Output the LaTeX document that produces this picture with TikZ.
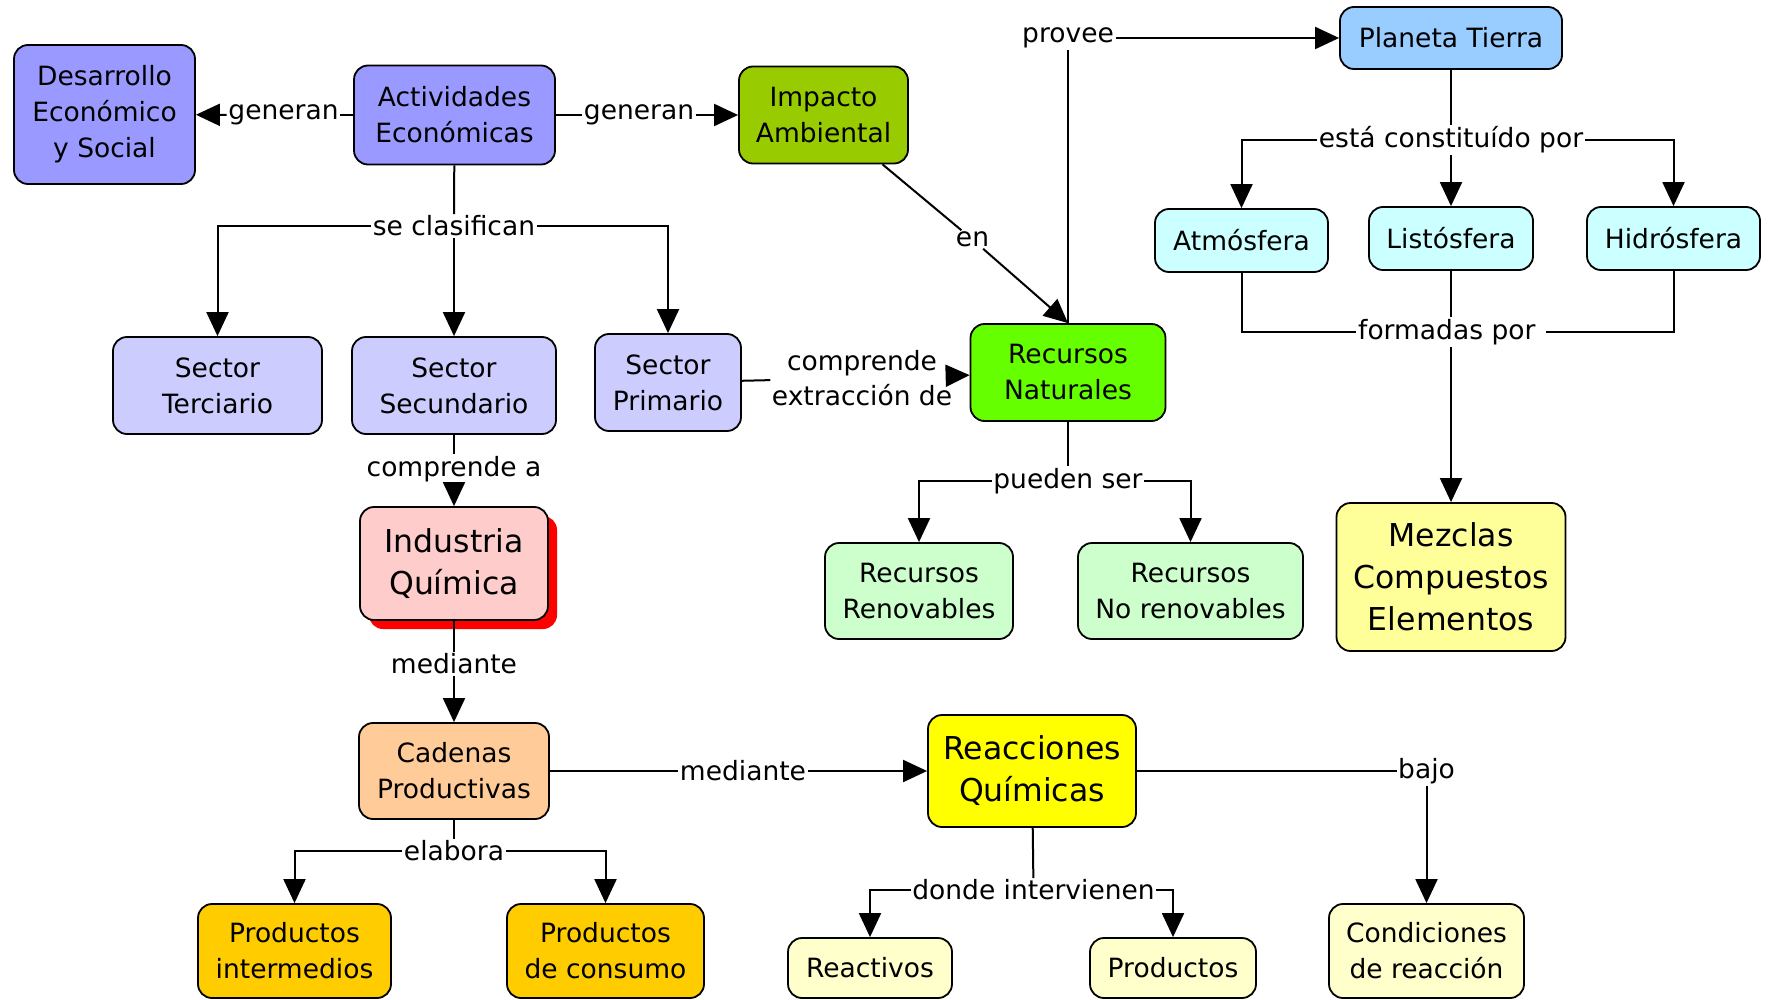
\documentclass[tikz,border=0pt]{standalone}
\usepackage{fontspec}
\setmainfont{DejaVu Sans}
\usetikzlibrary{arrows.meta,shadows}

\definecolor{cPeri}{HTML}{9999FF}
\definecolor{cImp}{HTML}{99CC00}
\definecolor{cSky}{HTML}{99CCFF}
\definecolor{cIce}{HTML}{CCFFFF}
\definecolor{cLav}{HTML}{CCCCFF}
\definecolor{cLime}{HTML}{66FF00}
\definecolor{cCream}{HTML}{FFFF99}
\definecolor{cPink}{HTML}{FFCCCC}
\definecolor{cMint}{HTML}{CCFFCC}
\definecolor{cPeach}{HTML}{FFCC99}
\definecolor{cGold}{HTML}{FFCC00}
\definecolor{cPale}{HTML}{FFFFCC}
\definecolor{cYel}{HTML}{FFFF00}

\begin{document}
\begin{tikzpicture}[x=1pt,y=-1pt,
  box/.style={draw=black, line width=1.8pt, rounded corners=14pt, align=center,
              inner sep=4pt, font=\fontsize{26.5}{36}\selectfont},
  big/.style={font=\fontsize{31.5}{42}\selectfont},
  sz/.style 2 args={minimum width=#1pt, minimum height=#2pt},
  lbl/.style={fill=white, inner sep=1.5pt, align=center, font=\fontsize{26.5}{35}\selectfont},
  con/.style={line width=2pt},
  arr/.style={con, -{Triangle[length=24pt,width=22pt]}},
]
\fill[white] (0,0) rectangle (1771,1000);
\useasboundingbox (0,0) rectangle (1771,1000);

% concepts
\node[box, fill=cPeri, sz={181}{139}] (des) at (104.5,114.5) {Desarrollo\\Económico\\y Social};
\node[box, fill=cPeri, sz={201}{99}] (act) at (454.5,115) {Actividades\\Económicas};
\node[box, fill=cImp, sz={169}{97}] (imp) at (823.5,115) {Impacto\\Ambiental};
\node[box, fill=cSky, sz={222}{62}] (pla) at (1451,38) {Planeta Tierra};
\node[box, fill=cIce, sz={173}{63}] (atm) at (1241.5,240.5) {Atmósfera};
\node[box, fill=cIce, sz={164}{63}] (lis) at (1451,238.5) {Listósfera};
\node[box, fill=cIce, sz={173}{63}] (hid) at (1673.5,238.5) {Hidrósfera};
\node[box, fill=cLav, sz={209}{97}] (ster) at (217.5,385.5) {Sector\\Terciario};
\node[box, fill=cLav, sz={204}{97}] (ssec) at (454,385.5) {Sector\\Secundario};
\node[box, fill=cLav, sz={146}{97}] (spri) at (668,382.5) {Sector\\Primario};
\node[box, fill=cLime, sz={195}{97}] (rnat) at (1068,372.5) {Recursos\\Naturales};
\node[box, big, fill=cCream, sz={229}{148}] (mez) at (1451,577) {Mezclas\\Compuestos\\Elementos};
\node[box, big, fill=cPink, sz={188}{113},
      drop shadow={shadow xshift=9pt, shadow yshift=-9pt, fill=red, opacity=1}] (ind) at (454,563.5) {Industria\\Química};
\node[box, fill=cMint, sz={188}{96}] (rren) at (919,591) {Recursos\\Renovables};
\node[box, fill=cMint, sz={225}{96}] (rnor) at (1190.5,591) {Recursos\\No renovables};
\node[box, fill=cPeach, sz={190}{96}] (cad) at (454,771) {Cadenas\\Productivas};
\node[box, big, fill=cYel, sz={208}{112}] (rea) at (1032,771) {Reacciones\\Químicas};
\node[box, fill=cGold, sz={193}{94}] (pint) at (294.5,951) {Productos\\intermedios};
\node[box, fill=cGold, sz={197}{94}] (pcon) at (605.5,951) {Productos\\de consumo};
\node[box, fill=cPale, sz={164}{60}] (reac) at (870,968) {Reactivos};
\node[box, fill=cPale, sz={166}{60}] (prod) at (1173,968) {Productos};
\node[box, fill=cPale, sz={195}{94}] (cond) at (1426.5,951) {Condiciones\\de reacción};

% linking phrases
\node[lbl] (gen1) at (283.5,115) {generan};
\node[lbl] (gen2) at (639,115) {generan};
\node[lbl] (clas) at (454,226) {se clasifican};
\node[lbl] (comp) at (862,378) {comprende\\extracción de};
\node[lbl] (en) at (972.5,239.5) {en};
\node[lbl] (prov) at (1068,38) {provee};
\node[lbl] (cons) at (1451,140) {está constituído por};
\node[lbl] (form) at (1451,332) {formadas por\ };
\node[lbl] (pued) at (1068,481) {pueden ser};
\node[lbl] (compa) at (454,469) {comprende a};
\node[lbl] (med1) at (454,664) {mediante};
\node[lbl] (med2) at (743,771) {mediante};
\node[lbl] (elab) at (454,851) {elabora};
\node[lbl] (dond) at (1033.5,890) {donde intervienen};
\node[lbl] (bajo) at (1426.5,771) {bajo};

% connectors
\draw[con] (act) -- (gen1);
\draw[arr] (gen1) -- (des);
\draw[con] (act) -- (gen2);
\draw[arr] (gen2) -- (imp);
\draw[con] (act) -- (clas);
\draw[arr] (clas) -- (ssec);
\draw[arr] (clas.west) -| (ster);
\draw[arr] (clas.east) -| (spri);
\draw[con] (spri) -- (comp);
\draw[arr] (comp) -- (rnat);
\draw[con] (imp) -- (en);
\draw[arr] (en) -- (rnat.north);
\draw[con] (rnat) -- (prov);
\draw[arr] (prov) -- (pla);
\draw[con] (pla) -- (cons);
\draw[arr] (cons) -- (lis);
\draw[arr] (cons.west) -| (atm);
\draw[arr] (cons.east) -| (hid);
\draw[con] (atm) |- (form.west);
\draw[con] (hid) |- (form.east);
\draw[con] (lis) -- (form);
\draw[arr] (form) -- (mez);
\draw[con] (rnat) -- (pued);
\draw[arr] (pued.west) -| (rren);
\draw[arr] (pued.east) -| (rnor);
\draw[con] (ssec) -- (compa);
\draw[arr] (compa) -- (ind);
\draw[con] (ind) -- (med1);
\draw[arr] (med1) -- (cad);
\draw[con] (cad) -- (med2);
\draw[arr] (med2) -- (rea);
\draw[con] (cad) -- (elab);
\draw[arr] (elab.west) -| (pint);
\draw[arr] (elab.east) -| (pcon);
\draw[con] (rea) -- (dond);
\draw[arr] (dond.west) -| (reac);
\draw[arr] (dond.east) -| (prod);
\draw[con] (rea) -- (bajo);
\draw[arr] (bajo) -- (cond);
\end{tikzpicture}
\end{document}
